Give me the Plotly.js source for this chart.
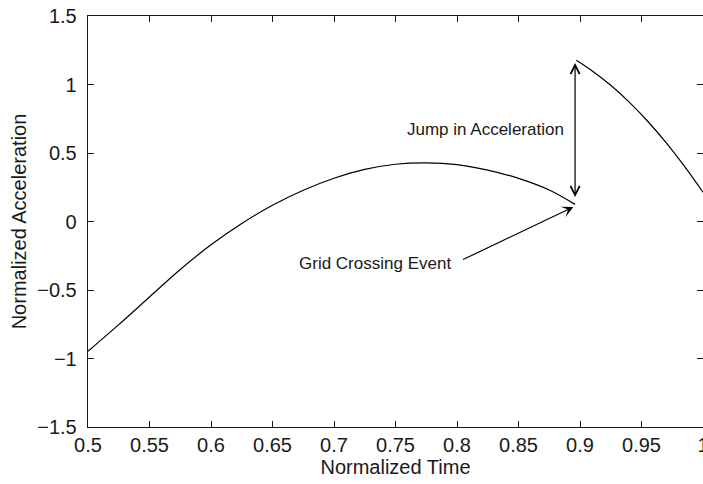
<!DOCTYPE html>
<html>
<head>
<meta charset="utf-8">
<script src="https://cdn.plot.ly/plotly-3.0.1.min.js"></script>
<style>html,body{margin:0;padding:0;background:#fff;}#chart{width:703px;height:484px;}</style>
</head>
<body>
<div id="chart"></div>
<script>
// Segment before the grid crossing event
const timeBefore = [0.5, 0.525, 0.55, 0.575, 0.6, 0.625, 0.65, 0.675, 0.7, 0.725, 0.75, 0.775, 0.8, 0.825, 0.85, 0.875, 0.896];
const accelBefore = [-0.947, -0.753, -0.551, -0.350, -0.170, -0.014, 0.118, 0.228, 0.316, 0.380, 0.418, 0.428, 0.415, 0.375, 0.315, 0.230, 0.125];
// Segment after the jump
const timeAfter = [0.897, 0.91, 0.925, 0.94, 0.955, 0.97, 0.985, 1.0];
const accelAfter = [1.177, 1.099, 0.994, 0.871, 0.732, 0.576, 0.403, 0.214];

const xTickVals = [0.5, 0.55, 0.6, 0.65, 0.7, 0.75, 0.8, 0.85, 0.9, 0.95, 1];
const xTickText = ["0.5", "0.55", "0.6", "0.65", "0.7", "0.75", "0.8", "0.85", "0.9", "0.95", "1"];
const yTickVals = [-1.5, -1, -0.5, 0, 0.5, 1, 1.5];
const yTickText = ["\u22121.5", "\u22121", "\u22120.5", "0", "0.5", "1", "1.5"];

// Annotation anchor values
const jumpArrow = {x: 0.896, yTop: 1.157, yBottom: 0.167};
const jumpLabel = {x: 0.8888, y: 0.671, text: "Jump in Acceleration"};
const eventArrow = {xTail: 0.8037, yTail: -0.283, xTip: 0.8946, yTip: 0.106};
const eventLabel = {x: 0.797, y: -0.303, text: "Grid Crossing Event"};

const font = 'Liberation Sans, Arial, Helvetica, sans-serif';
const ink = '#1a1a1a';

const traces = [
  {x: timeBefore, y: accelBefore, type: 'scatter', mode: 'lines', line: {color: '#000', width: 1.2, shape: 'spline', smoothing: 1}, hoverinfo: 'skip'},
  {x: timeAfter, y: accelAfter, type: 'scatter', mode: 'lines', line: {color: '#000', width: 1.2, shape: 'spline', smoothing: 1}, hoverinfo: 'skip'},
  {x: [0.5], y: [0], yaxis: 'y2', type: 'scatter', mode: 'markers', marker: {opacity: 0}, hoverinfo: 'skip'}
];

const layout = {
  width: 703, height: 484,
  margin: {l: 88, r: 0, t: 16, b: 57},
  paper_bgcolor: '#fff', plot_bgcolor: '#fff',
  showlegend: false,
  font: {family: font, color: ink, size: 20},
  xaxis: {
    range: [0.5, 1], tickvals: xTickVals, ticktext: xTickText,
    ticks: 'inside', ticklen: 6, tickwidth: 1, tickcolor: ink,
    showline: true, linecolor: ink, linewidth: 1.3, mirror: 'ticks',
    showgrid: false, zeroline: false, fixedrange: true,
    tickfont: {size: 20, color: ink}, ticklabelstandoff: 0, ticklabeloverflow: 'allow',
    title: {text: 'Normalized Time', font: {size: 20, color: ink}, standoff: 0}
  },
  yaxis: {
    range: [-1.5, 1.5], tickvals: yTickVals, ticktext: yTickText,
    ticks: 'inside', ticklen: 6, tickwidth: 1, tickcolor: ink,
    showline: true, linecolor: ink, linewidth: 1.3, mirror: false,
    showgrid: false, zeroline: false, fixedrange: true,
    tickfont: {size: 20, color: ink}, ticklabelstandoff: 6, ticklabeloverflow: 'allow',
    title: {text: 'Normalized Acceleration', font: {size: 20, color: ink}, standoff: 5}
  },
  yaxis2: {
    overlaying: 'y', side: 'right', range: [-1.5, 1.5], tickvals: yTickVals,
    ticks: 'inside', ticklen: 6, tickwidth: 1, tickcolor: ink,
    showticklabels: false, showline: false, showgrid: false, zeroline: false, fixedrange: true
  },
  annotations: [
    {x: jumpArrow.x, y: jumpArrow.yTop, ax: jumpArrow.x, ay: jumpArrow.yBottom, xref: 'x', yref: 'y', axref: 'x', ayref: 'y',
     text: '', showarrow: true, arrowhead: 5, startarrowhead: 5, arrowside: 'end+start', arrowsize: 1.5, arrowwidth: 1.2, arrowcolor: '#000'},
    {x: eventArrow.xTip, y: eventArrow.yTip, ax: eventArrow.xTail, ay: eventArrow.yTail, xref: 'x', yref: 'y', axref: 'x', ayref: 'y',
     text: '', showarrow: true, arrowhead: 3, arrowsize: 1.6, arrowwidth: 1.2, arrowcolor: '#000'},
    {x: jumpLabel.x, y: jumpLabel.y, xref: 'x', yref: 'y', text: jumpLabel.text, showarrow: false, xanchor: 'right', yanchor: 'middle',
     font: {size: 17, color: ink}},
    {x: eventLabel.x, y: eventLabel.y, xref: 'x', yref: 'y', text: eventLabel.text, showarrow: false, xanchor: 'right', yanchor: 'middle',
     font: {size: 17, color: ink}}
  ]
};

Plotly.newPlot('chart', traces, layout, {staticPlot: true, displayModeBar: false});
</script>
</body>
</html>
